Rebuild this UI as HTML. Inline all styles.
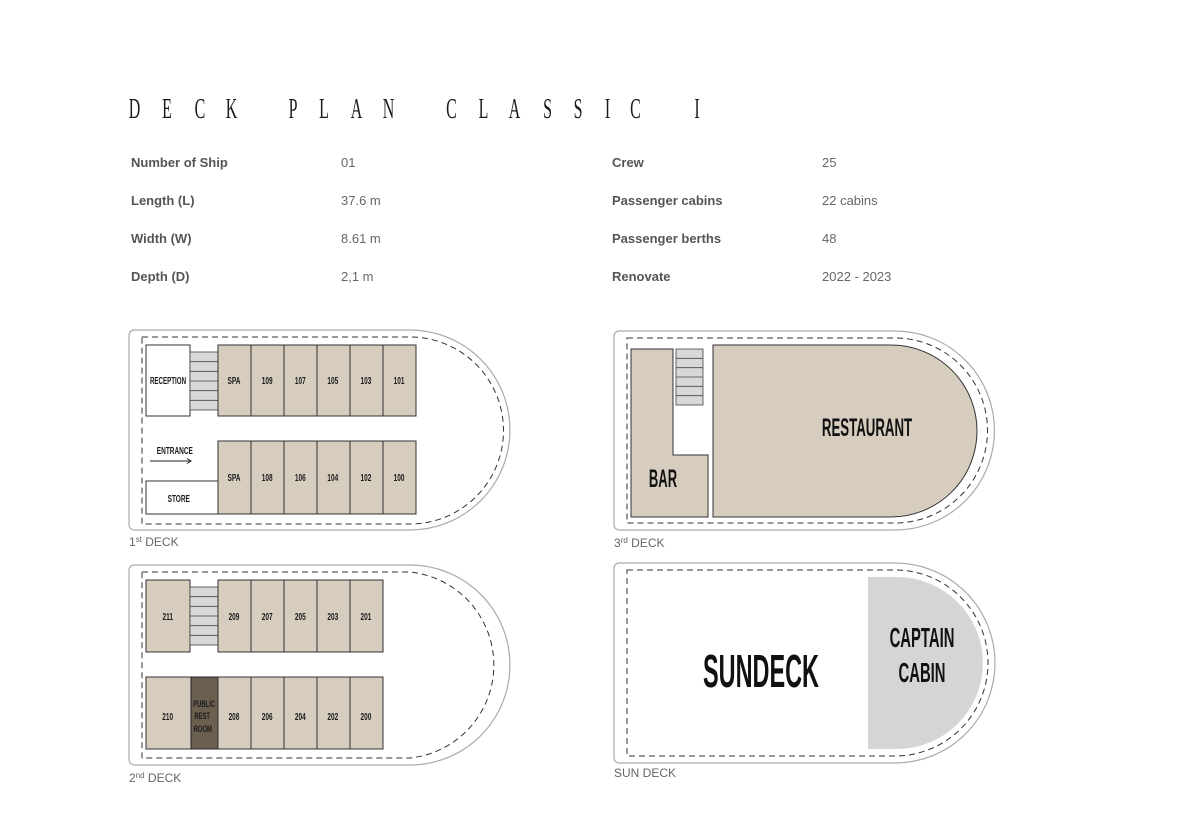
<!DOCTYPE html>
<html><head><meta charset="utf-8"><style>
html,body{margin:0;padding:0;background:#fff;}
svg{display:block;}
.t{font-family:"Liberation Serif",serif;font-size:29px;fill:#1a1a1a;text-anchor:middle;}
.lb{font-family:"Liberation Sans",sans-serif;font-size:13px;font-weight:bold;fill:#555;}
.vl{font-family:"Liberation Sans",sans-serif;font-size:13px;fill:#666;}
.c{font-family:"Liberation Sans",sans-serif;font-size:10px;font-weight:bold;fill:#1a1a1a;text-anchor:middle;}
.big{font-family:"Liberation Sans",sans-serif;font-weight:bold;fill:#111;text-anchor:middle;}
.dk{font-family:"Liberation Sans",sans-serif;font-size:12px;fill:#666;}
.cab{fill:#d6cdbf;stroke:#333;stroke-width:1;}
.wh{fill:#fff;stroke:#333;stroke-width:1;}
.st{fill:#d8d8d8;stroke:#444;stroke-width:0.8;}
.out{fill:#fff;stroke:#aaa;stroke-width:1.2;}
.dash{fill:none;stroke:#333;stroke-width:1;stroke-dasharray:6,4;}
</style></head><body>
<svg width="1200" height="828" viewBox="0 0 1200 828" xmlns="http://www.w3.org/2000/svg">
<g>
<text class="t" transform="translate(134.5,118) scale(0.55,1)">D</text>
<text class="t" transform="translate(167,118) scale(0.55,1)">E</text>
<text class="t" transform="translate(200,118) scale(0.55,1)">C</text>
<text class="t" transform="translate(231.5,118) scale(0.55,1)">K</text>
<text class="t" transform="translate(293,118) scale(0.55,1)">P</text>
<text class="t" transform="translate(324,118) scale(0.55,1)">L</text>
<text class="t" transform="translate(356.5,118) scale(0.55,1)">A</text>
<text class="t" transform="translate(388.5,118) scale(0.55,1)">N</text>
<text class="t" transform="translate(451.5,118) scale(0.55,1)">C</text>
<text class="t" transform="translate(483.5,118) scale(0.55,1)">L</text>
<text class="t" transform="translate(514.5,118) scale(0.55,1)">A</text>
<text class="t" transform="translate(547.5,118) scale(0.55,1)">S</text>
<text class="t" transform="translate(578,118) scale(0.55,1)">S</text>
<text class="t" transform="translate(607.5,118) scale(0.55,1)">I</text>
<text class="t" transform="translate(635.5,118) scale(0.55,1)">C</text>
<text class="t" transform="translate(697,118) scale(0.55,1)">I</text>
</g>
<text class="lb" x="131" y="167">Number of Ship</text><text class="vl" x="341" y="167">01</text>
<text class="lb" x="131" y="205">Length (L)</text><text class="vl" x="341" y="205">37.6 m</text>
<text class="lb" x="131" y="243">Width (W)</text><text class="vl" x="341" y="243">8.61 m</text>
<text class="lb" x="131" y="281">Depth (D)</text><text class="vl" x="341" y="281">2,1 m</text>
<text class="lb" x="612" y="167">Crew</text><text class="vl" x="822" y="167">25</text>
<text class="lb" x="612" y="205">Passenger cabins</text><text class="vl" x="822" y="205">22 cabins</text>
<text class="lb" x="612" y="243">Passenger berths</text><text class="vl" x="822" y="243">48</text>
<text class="lb" x="612" y="281">Renovate</text><text class="vl" x="822" y="281">2022 - 2023</text>

<!-- DECK 1 -->
<path class="out" d="M135,330 H410 A100,100 0 0 1 410,530 H135 Q129,530 129,524 V336 Q129,330 135,330 Z"/>
<path class="dash" d="M142,337 H410 A93.5,93.5 0 0 1 410,524 H142 Z"/>
<rect class="wh" x="146" y="345" width="44" height="71"/>
<g transform="translate(168,384) scale(0.62,1)"><text class="c" x="0" y="0">RECEPTION</text></g>
<rect class="st" x="190" y="352" width="28" height="58"/>
<path d="M190,361.7H218M190,371.3H218M190,381H218M190,390.7H218M190,400.3H218" stroke="#444" stroke-width="0.8"/>
<g>
<rect class="cab" x="218" y="345" width="33" height="71"/><rect class="cab" x="251" y="345" width="33" height="71"/>
<rect class="cab" x="284" y="345" width="33" height="71"/><rect class="cab" x="317" y="345" width="33" height="71"/>
<rect class="cab" x="350" y="345" width="33" height="71"/><rect class="cab" x="383" y="345" width="33" height="71"/>
<rect class="cab" x="218" y="441" width="33" height="73"/><rect class="cab" x="251" y="441" width="33" height="73"/>
<rect class="cab" x="284" y="441" width="33" height="73"/><rect class="cab" x="317" y="441" width="33" height="73"/>
<rect class="cab" x="350" y="441" width="33" height="73"/><rect class="cab" x="383" y="441" width="33" height="73"/>
</g>
<rect class="wh" x="146" y="481" width="72" height="33"/>
<g transform="scale(0.65,1)">
<text class="c" x="360" y="384">SPA</text><text class="c" x="411" y="384">109</text><text class="c" x="462" y="384">107</text>
<text class="c" x="512" y="384">105</text><text class="c" x="563" y="384">103</text><text class="c" x="614" y="384">101</text>
<text class="c" x="360" y="481">SPA</text><text class="c" x="411" y="481">108</text><text class="c" x="462" y="481">106</text>
<text class="c" x="512" y="481">104</text><text class="c" x="563" y="481">102</text><text class="c" x="614" y="481">100</text>
<text class="c" x="269" y="454">ENTRANCE</text><text class="c" x="275" y="502">STORE</text>
</g>
<path d="M150,461 H190" stroke="#222" stroke-width="1"/><path d="M187,458.5 L191,461 L187,463.5" fill="none" stroke="#222" stroke-width="1"/>
<text class="dk" x="129" y="546"><tspan font-size="12">1</tspan><tspan font-size="8" dy="-4">st</tspan><tspan dy="4"> DECK</tspan></text>

<!-- DECK 2 -->
<path class="out" d="M135,565 H410 A100,100 0 0 1 410,765 H135 Q129,765 129,759 V571 Q129,565 135,565 Z"/>
<path class="dash" d="M142,572 H410 A93.5,93.5 0 0 1 410,758 H142 Z"/>
<rect class="cab" x="146" y="580" width="44" height="72"/>
<rect class="st" x="190" y="587" width="28" height="58"/>
<path d="M190,596.7H218M190,606.3H218M190,616H218M190,625.7H218M190,635.3H218" stroke="#444" stroke-width="0.8"/>
<rect class="cab" x="218" y="580" width="33" height="72"/><rect class="cab" x="251" y="580" width="33" height="72"/>
<rect class="cab" x="284" y="580" width="33" height="72"/><rect class="cab" x="317" y="580" width="33" height="72"/>
<rect class="cab" x="350" y="580" width="33" height="72"/>
<rect class="cab" x="146" y="677" width="45" height="72"/>
<rect x="191" y="677" width="27" height="72" fill="#6b5f50" stroke="#222"/>
<rect class="cab" x="218" y="677" width="33" height="72"/><rect class="cab" x="251" y="677" width="33" height="72"/>
<rect class="cab" x="284" y="677" width="33" height="72"/><rect class="cab" x="317" y="677" width="33" height="72"/>
<rect class="cab" x="350" y="677" width="33" height="72"/>
<g transform="scale(0.65,1)">
<text class="c" x="258" y="620">211</text><text class="c" x="360" y="620">209</text><text class="c" x="411" y="620">207</text>
<text class="c" x="462" y="620">205</text><text class="c" x="512" y="620">203</text><text class="c" x="563" y="620">201</text>
<text class="c" x="258" y="720">210</text><text class="c" x="360" y="720">208</text><text class="c" x="411" y="720">206</text>
<text class="c" x="462" y="720">204</text><text class="c" x="512" y="720">202</text><text class="c" x="563" y="720">200</text>
<text class="c" x="314" y="707" style="font-size:9px">PUBLIC</text>
<text class="c" x="311" y="719" style="font-size:9px">REST</text>
<text class="c" x="312" y="732" style="font-size:9px">ROOM</text>
</g>
<text class="dk" x="129" y="782"><tspan font-size="12">2</tspan><tspan font-size="8" dy="-4">nd</tspan><tspan dy="4"> DECK</tspan></text>

<!-- DECK 3 -->
<path class="out" d="M620,331 H895 A99.5,99.5 0 0 1 895,530 H620 Q614,530 614,524 V337 Q614,331 620,331 Z"/>
<path class="dash" d="M627,338 H895 A92.5,92.5 0 0 1 895,523 H627 Z"/>
<path class="cab" d="M631,349 H673 V455 H708 V517 H631 Z"/>
<rect class="st" x="676" y="349" width="27" height="56"/>
<path d="M676,358.3H703M676,367.7H703M676,377H703M676,386.3H703M676,395.7H703" stroke="#444" stroke-width="0.8"/>
<path class="cab" d="M713,345 H891 A86,86 0 0 1 891,517 H713 Z" stroke-width="1.2"/>
<g transform="translate(867,436) scale(0.53,1)"><text class="big" font-size="25">RESTAURANT</text></g>
<g transform="translate(663,487) scale(0.52,1)"><text class="big" font-size="25">BAR</text></g>
<text class="dk" x="614" y="547"><tspan font-size="12">3</tspan><tspan font-size="8" dy="-4">rd</tspan><tspan dy="4"> DECK</tspan></text>

<!-- SUN DECK -->
<path class="out" d="M620,563 H895 A100,100 0 0 1 895,763 H620 Q614,763 614,757 V569 Q614,563 620,563 Z"/>
<path class="dash" d="M627,570 H895 A93,93 0 0 1 895,756 H627 Z"/>
<path d="M868,577 H897 A86,86 0 0 1 897,749 H868 Z" fill="#d5d5d5"/>
<g transform="translate(761,687) scale(0.51,1)"><text class="big" font-size="46">SUNDECK</text></g>
<g transform="translate(922,647) scale(0.53,1)"><text class="big" font-size="28">CAPTAIN</text></g>
<g transform="translate(922,682) scale(0.53,1)"><text class="big" font-size="28">CABIN</text></g>
<text class="dk" x="614" y="777">SUN DECK</text>
</svg>
</body></html>
